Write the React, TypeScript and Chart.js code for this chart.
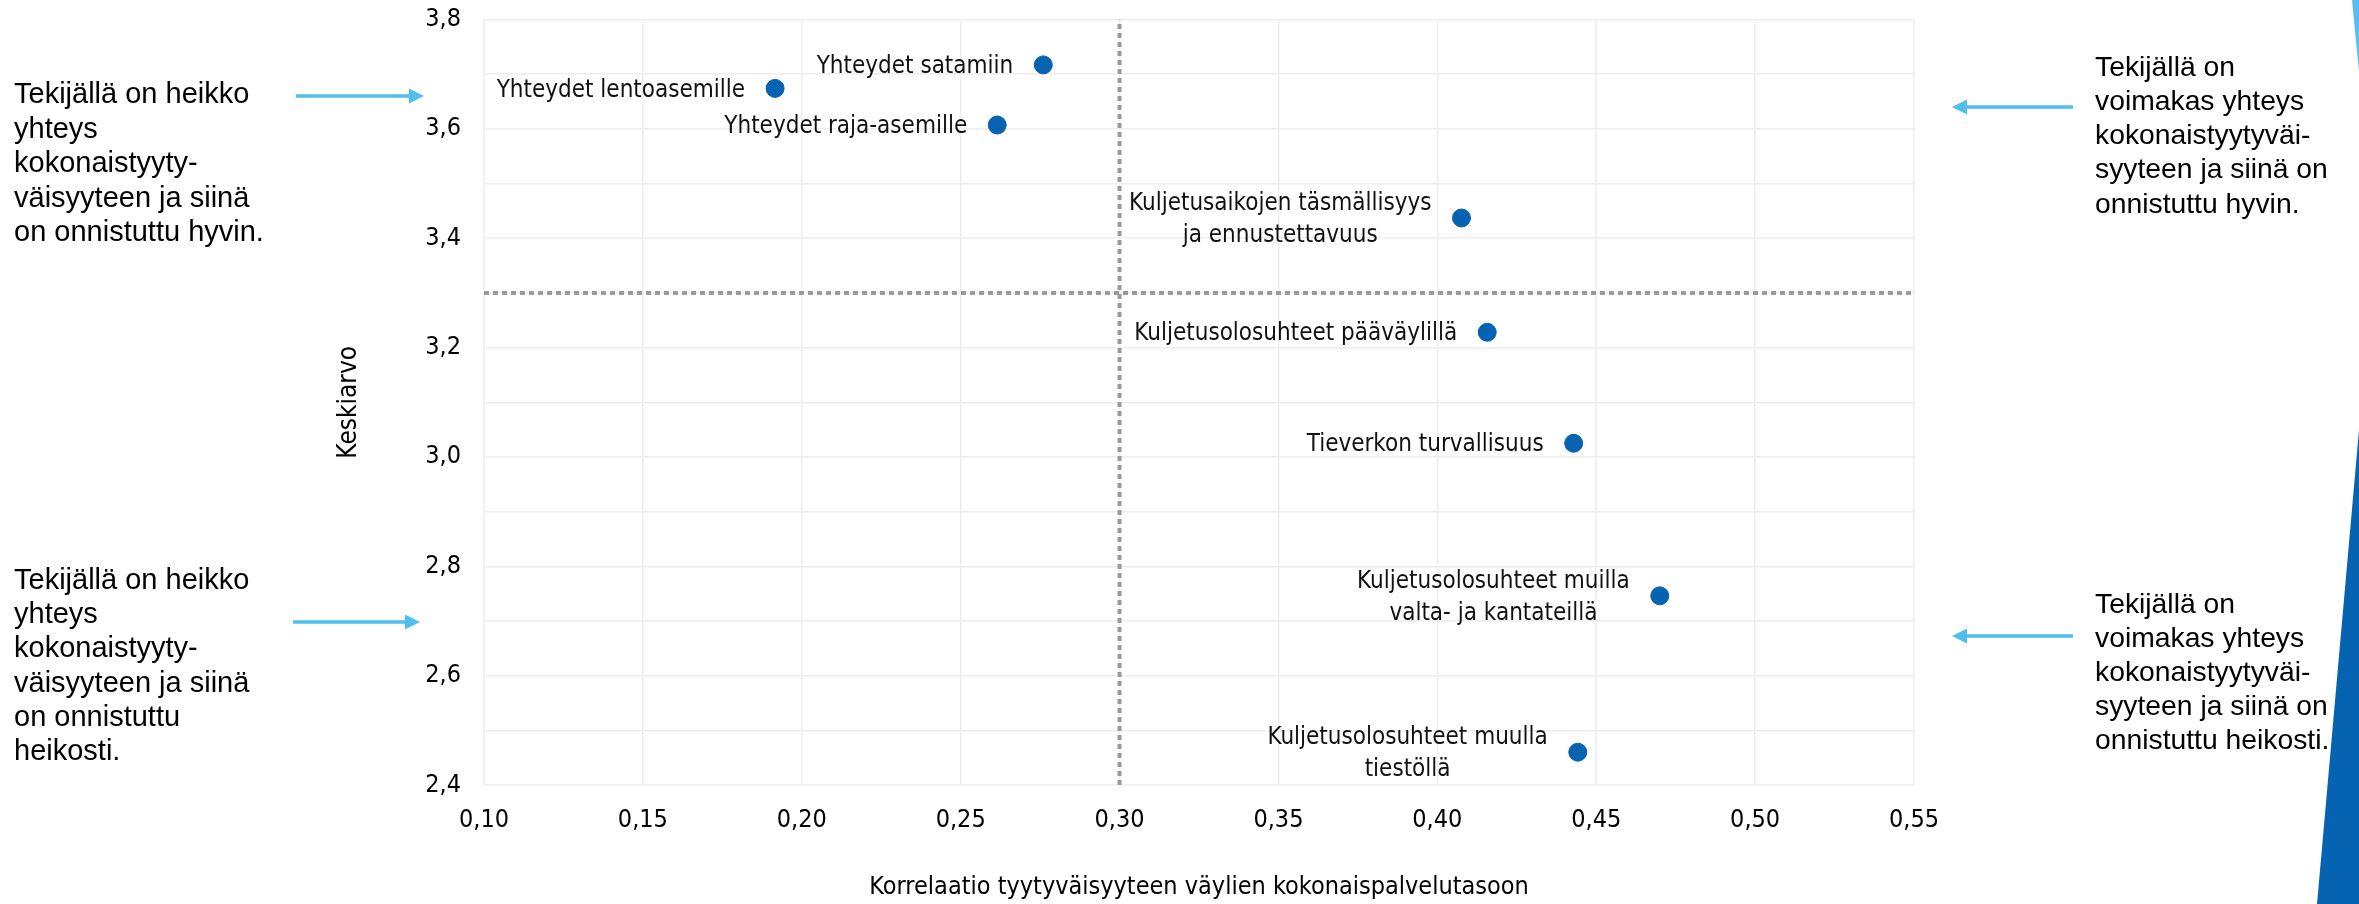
import React, { useEffect, useRef } from "react";
import { Chart, registerables } from "chart.js";

Chart.register(...registerables);

// ---- Data ----
const pointNames: string[][] = [
  ["Yhteydet satamiin"],
  ["Yhteydet lentoasemille"],
  ["Yhteydet raja-asemille"],
  ["Kuljetusaikojen täsmällisyys", "ja ennustettavuus"],
  ["Kuljetusolosuhteet pääväylillä"],
  ["Tieverkon turvallisuus"],
  ["Kuljetusolosuhteet muilla", "valta- ja kantateillä"],
  ["Kuljetusolosuhteet muulla", "tiestöllä"],
];
const correlation: number[] = [0.276, 0.1916, 0.2615, 0.4076, 0.4157, 0.4429, 0.47, 0.4442];
const meanScore: number[] = [3.717, 3.674, 3.607, 3.437, 3.228, 3.025, 2.746, 2.46];

const xMin = 0.1;
const xMax = 0.55;
const xStep = 0.05;
const yMin = 2.4;
const yMax = 3.8;
const yStep = 0.1;
const quadrantX = 0.3;
const quadrantY = 3.3;

const xTitle = "Korrelaatio tyytyväisyyteen väylien kokonaispalvelutasoon";
const yTitle = "Keskiarvo";

const noteTopLeft = ["Tekijällä on heikko", "yhteys", "kokonaistyyty-", "väisyyteen ja siinä", "on onnistuttu hyvin."];
const noteBottomLeft = ["Tekijällä on heikko", "yhteys", "kokonaistyyty-", "väisyyteen ja siinä", "on onnistuttu", "heikosti."];
const noteTopRight = ["Tekijällä on", "voimakas yhteys", "kokonaistyytyväi-", "syyteen ja siinä on", "onnistuttu hyvin."];
const noteBottomRight = ["Tekijällä on", "voimakas yhteys", "kokonaistyytyväi-", "syyteen ja siinä on", "onnistuttu heikosti."];

const chartFont = '"DejaVu Sans Condensed", "DejaVu Sans", sans-serif';
const noteFont = '"Liberation Sans", Arial, sans-serif';
const pointColor = "#0563b1";
const arrowColor = "#4fbfee";

const fmt = (v: number, d: number) => v.toFixed(d).replace(".", ",");

function drawArrow(ctx: CanvasRenderingContext2D, x1: number, x2: number, y: number) {
  const dir = x2 > x1 ? 1 : -1;
  const head = 15;
  ctx.save();
  ctx.strokeStyle = arrowColor;
  ctx.fillStyle = arrowColor;
  ctx.lineWidth = 3.5;
  ctx.beginPath();
  ctx.moveTo(x1, y);
  ctx.lineTo(x2 - dir * head, y);
  ctx.stroke();
  ctx.beginPath();
  ctx.moveTo(x2, y);
  ctx.lineTo(x2 - dir * head, y - 7.5);
  ctx.lineTo(x2 - dir * head, y + 7.5);
  ctx.closePath();
  ctx.fill();
  ctx.restore();
}

function drawNote(ctx: CanvasRenderingContext2D, lines: string[], x: number, y0: number, lh: number, size: number) {
  ctx.save();
  ctx.font = `${size}px ${noteFont}`;
  ctx.fillStyle = "#000";
  ctx.textAlign = "left";
  ctx.textBaseline = "middle";
  lines.forEach((l, i) => ctx.fillText(l, x, y0 + i * lh));
  ctx.restore();
}

const pointLabelPlugin = {
  id: "pointLabels",
  afterDatasetsDraw(chart: any) {
    const ctx: CanvasRenderingContext2D = chart.ctx;
    const meta = chart.getDatasetMeta(2);
    ctx.save();
    ctx.font = `24px ${chartFont}`;
    ctx.fillStyle = "#111";
    ctx.textAlign = "center";
    ctx.textBaseline = "middle";
    meta.data.forEach((el: any, i: number) => {
      const lines = pointNames[i];
      const w = Math.max(...lines.map((l) => ctx.measureText(l).width));
      const cx = el.x - 30 - w / 2;
      const lh = 32;
      const y0 = el.y - ((lines.length - 1) * lh) / 2 + 2;
      lines.forEach((l, j) => ctx.fillText(l, cx, y0 + j * lh));
    });
    ctx.restore();
  },
};

const sidePlugin = {
  id: "sideNotes",
  afterDraw(chart: any) {
    const ctx: CanvasRenderingContext2D = chart.ctx;
    drawNote(ctx, noteTopLeft, 14, 95, 34.5, 29);
    drawNote(ctx, noteBottomLeft, 14, 581, 34.2, 29);
    drawNote(ctx, noteTopRight, 2095, 68, 34.2, 28.3);
    drawNote(ctx, noteBottomRight, 2095, 605, 34, 28.3);
    drawArrow(ctx, 296, 424, 96);
    drawArrow(ctx, 293, 420, 622);
    drawArrow(ctx, 2073, 1952, 107);
    drawArrow(ctx, 2073, 1952, 636);
    // decorative shapes at the right edge
    ctx.save();
    ctx.fillStyle = "#0563b1";
    ctx.beginPath();
    ctx.moveTo(2359, 430);
    ctx.lineTo(2317, 904);
    ctx.lineTo(2359, 904);
    ctx.closePath();
    ctx.fill();
    ctx.fillStyle = "#5bbcf2";
    ctx.beginPath();
    ctx.moveTo(2352, 0);
    ctx.lineTo(2359, 0);
    ctx.lineTo(2359, 72);
    ctx.closePath();
    ctx.fill();
    ctx.restore();
  },
};

export default function App() {
  const ref = useRef<HTMLCanvasElement | null>(null);
  useEffect(() => {
    if (!ref.current) return;
    const dotted = {
      borderColor: "#9a9a9a",
      borderWidth: 4,
      borderDash: [5, 4],
      pointRadius: 0,
      showLine: true,
      fill: false,
    };
    const chart = new Chart(ref.current, {
      type: "scatter",
      data: {
        datasets: [
          {
            ...dotted,
            data: [
              { x: quadrantX, y: yMin },
              { x: quadrantX, y: yMax },
            ],
          },
          {
            ...dotted,
            data: [
              { x: xMin, y: quadrantY },
              { x: xMax, y: quadrantY },
            ],
          },
          {
            data: correlation.map((x, i) => ({ x, y: meanScore[i] })),
            backgroundColor: pointColor,
            borderColor: pointColor,
            pointRadius: 9,
            pointHoverRadius: 9,
            showLine: false,
          },
        ],
      } as any,
      options: {
        responsive: false,
        animation: false,
        events: [],
        layout: { padding: { left: 330, right: 445, top: 19.5, bottom: 0 } },
        plugins: {
          legend: { display: false },
          tooltip: { enabled: false },
        },
        scales: {
          x: {
            type: "linear",
            min: xMin,
            max: xMax,
            afterFit: (s: any) => {
              s.height = 119;
              s.paddingLeft = 0;
              s.paddingRight = 0;
            },
            grid: { color: "#eeeeee", lineWidth: 1.5, drawTicks: false },
            border: { display: false },
            ticks: {
              stepSize: xStep,
              padding: 20,
              color: "#000",
              font: { family: chartFont, size: 25 },
              callback: (v: any) => fmt(Number(v), 2),
            },
            title: {
              display: true,
              text: xTitle,
              color: "#000",
              padding: { top: 4, bottom: 2 },
              font: { family: chartFont, size: 25 },
            },
          },
          y: {
            type: "linear",
            min: yMin,
            max: yMax,
            afterFit: (s: any) => {
              s.width = 154;
              s.paddingTop = 0;
              s.paddingBottom = 0;
            },
            grid: { color: "#eeeeee", lineWidth: 1.5, drawTicks: false },
            border: { display: false },
            ticks: {
              stepSize: yStep,
              padding: 23,
              color: "#000",
              font: { family: chartFont, size: 25 },
              callback: (v: any) => (Math.round(Number(v) * 10) % 2 === 0 ? fmt(Number(v), 1) : ""),
            },
            title: {
              display: true,
              text: yTitle,
              color: "#000",
              font: { family: chartFont, size: 26 },
            },
          },
        },
      } as any,
      plugins: [pointLabelPlugin, sidePlugin],
    });
    return () => chart.destroy();
  }, []);

  return (
    <div style={{ position: "fixed", left: 0, top: 0, width: 2359, height: 904, background: "#fff" }}>
      <canvas ref={ref} width={2359} height={904} style={{ width: 2359, height: 904, display: "block" }} />
    </div>
  );
}
